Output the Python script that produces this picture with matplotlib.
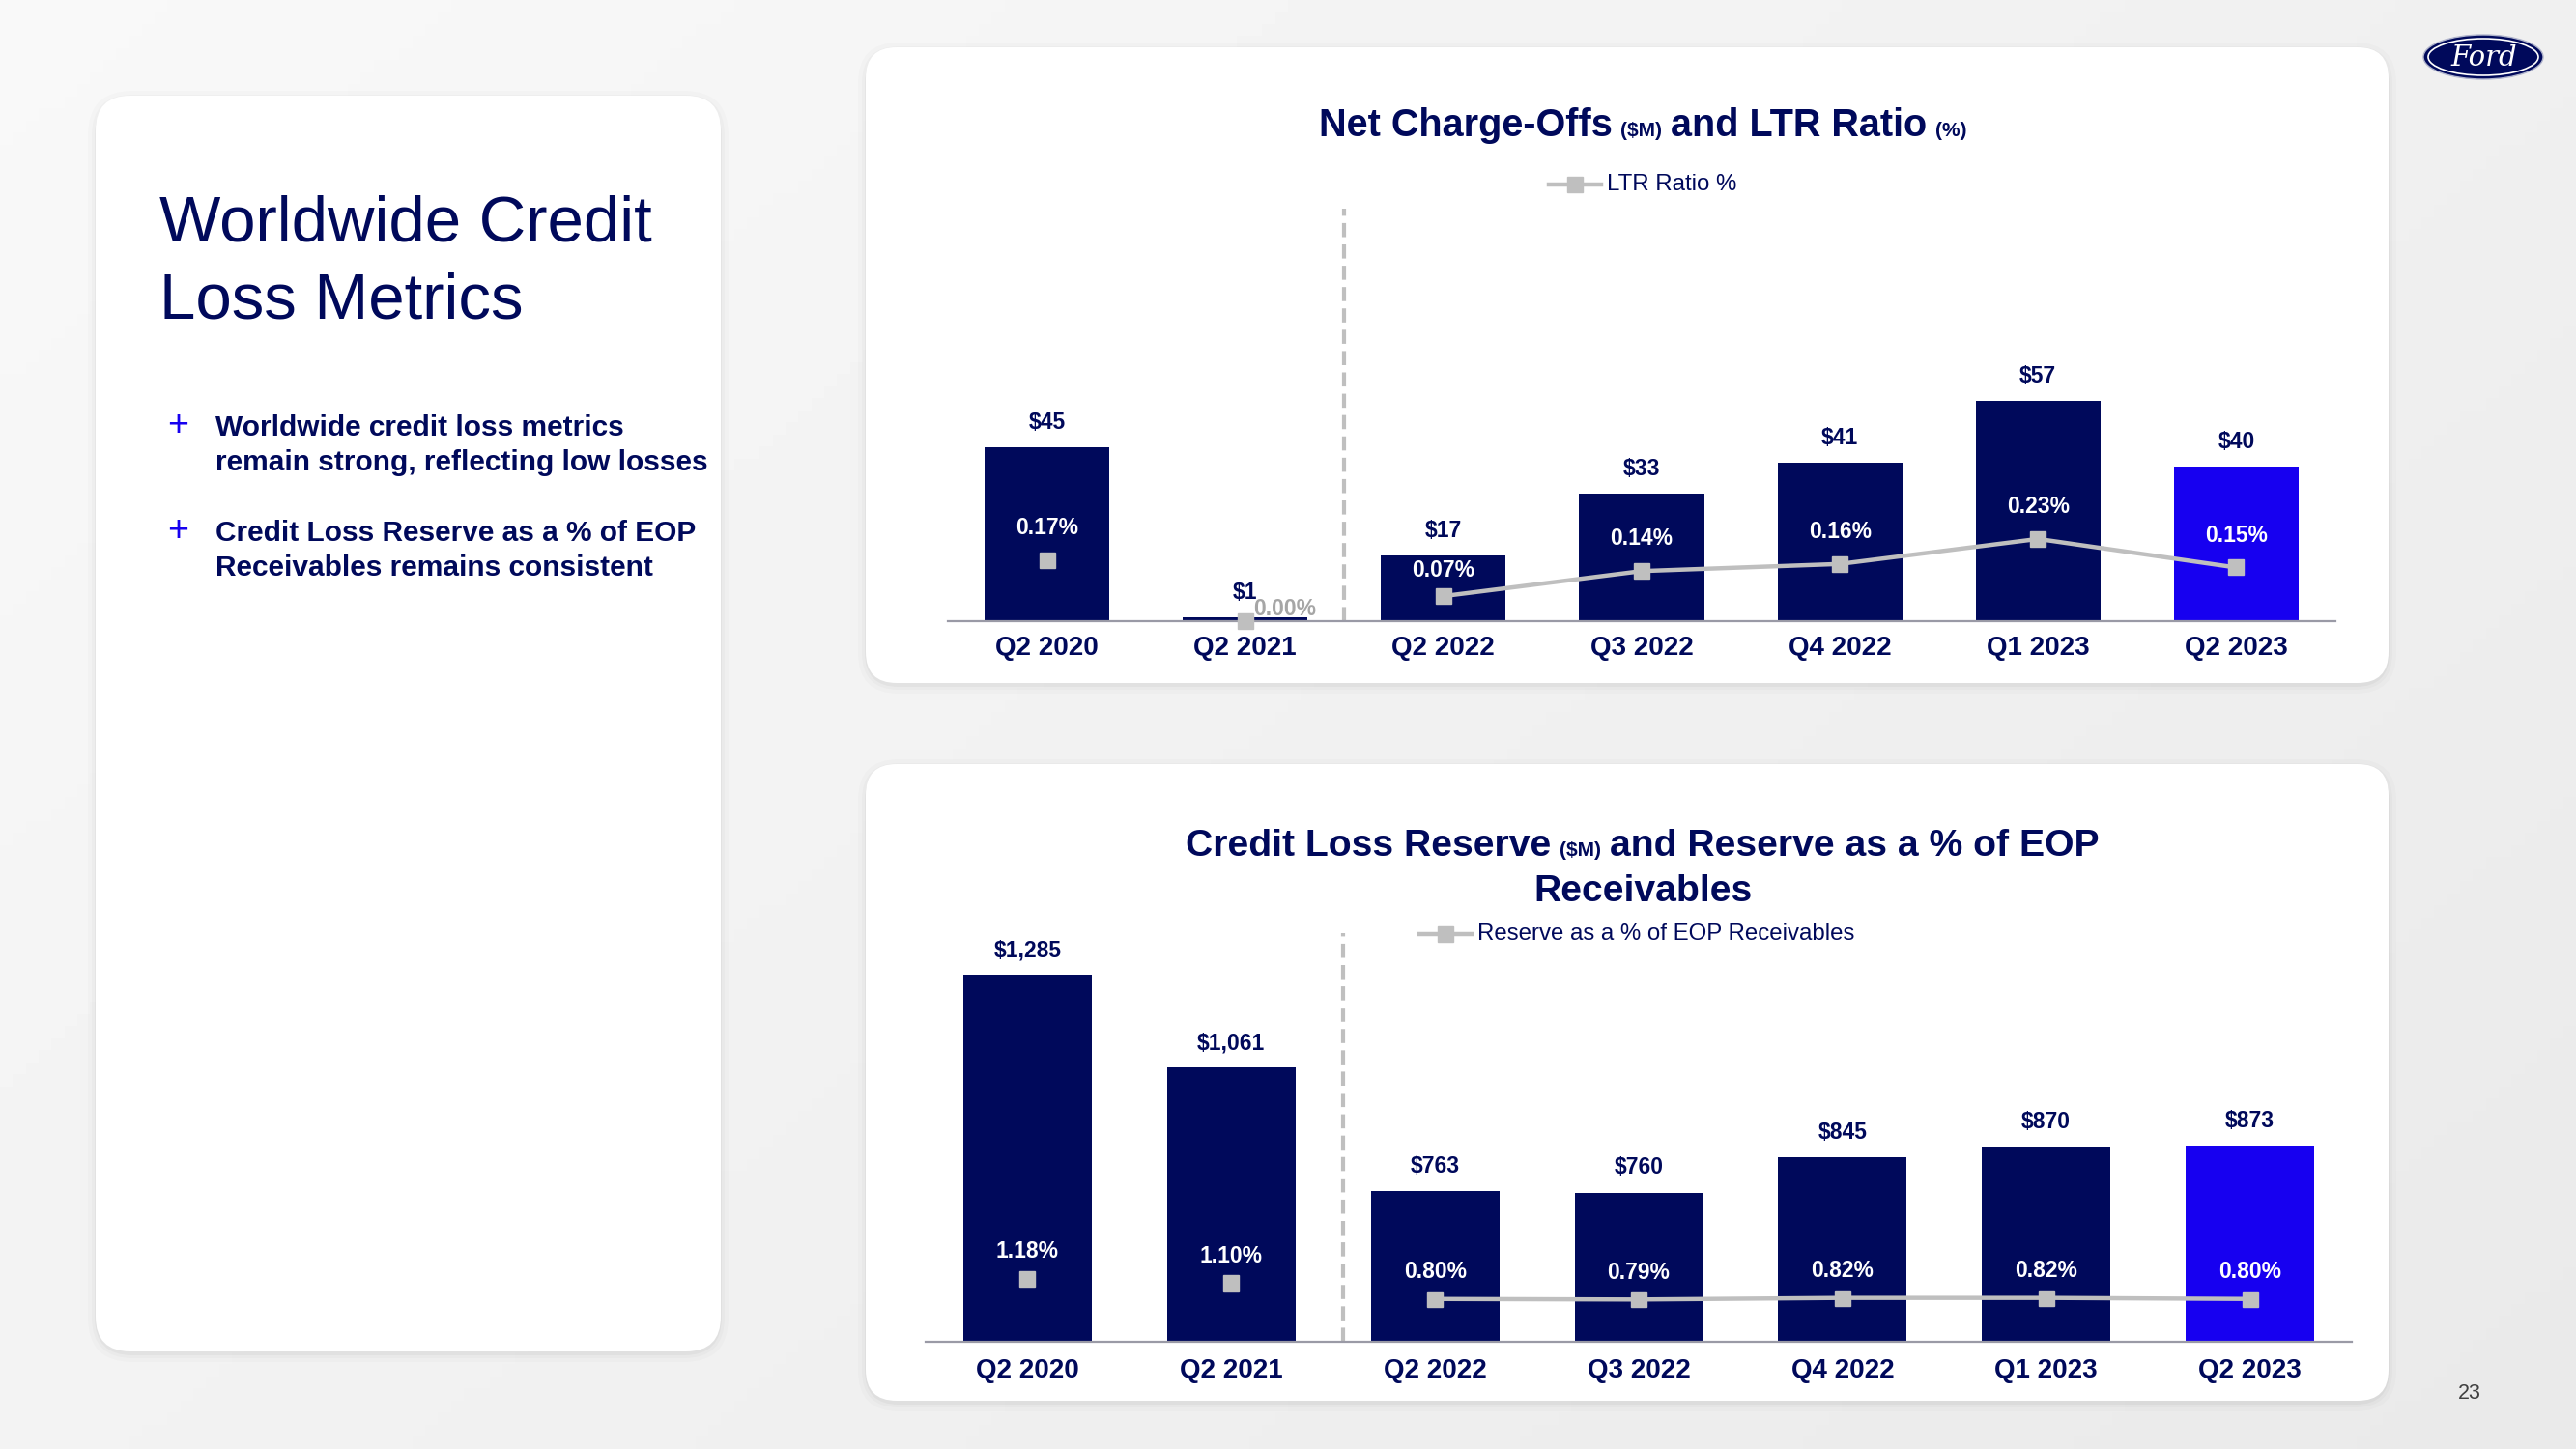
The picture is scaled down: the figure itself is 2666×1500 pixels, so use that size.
import numpy as np
import matplotlib
matplotlib.use('Agg')
import matplotlib.pyplot as plt
from matplotlib.patches import FancyBboxPatch, Ellipse

plt.rcParams['font.family'] = ['Liberation Sans', 'DejaVu Sans']

# data
cats = ['Q2 2020', 'Q2 2021', 'Q2 2022', 'Q3 2022', 'Q4 2022', 'Q1 2023', 'Q2 2023']
net_charge_offs = [45, 1, 17, 33, 41, 57, 40]  # $M
ltr_ratio = [0.17, 0.00, 0.07, 0.14, 0.16, 0.23, 0.15]  # %
reserve = [1285, 1061, 763, 760, 845, 870, 873]  # $M
reserve_pct = [1.18, 1.10, 0.80, 0.79, 0.82, 0.82, 0.80]  # % of EOP receivables

W, H = 2666, 1500
NAVY = '#00095B'
BRIGHT = '#1700F0'
GREY = '#BFBFBF'
PT = 100 / 72  # px per point

fig = plt.figure(figsize=(W / 100, H / 100), dpi=100)

# background axes in pixel units (y down)
bg = fig.add_axes([0, 0, 1, 1])
bg.set_xlim(0, W)
bg.set_ylim(H, 0)
bg.axis('off')
gx, gy = np.meshgrid(np.linspace(0, 1, 200), np.linspace(0, 1, 120))
grad = 0.975 - 0.06 * (0.6 * gx + 0.4 * gy)
bg.imshow(grad, cmap='gray', vmin=0, vmax=1, extent=(0, W, H, 0), aspect='auto', zorder=0)


def px_rect(x0, y0, x1, y1):
    return [x0 / W, 1 - y1 / H, (x1 - x0) / W, (y1 - y0) / H]


def panel(x0, y0, x1, y1, r):
    # soft shadow
    for k, a in [(10, 0.015), (6, 0.02), (3, 0.03)]:
        bg.add_patch(FancyBboxPatch((x0 - k + 2, y0 - k + 5), x1 - x0 + 2 * k - 4, y1 - y0 + 2 * k - 4,
                                    boxstyle=f'round,pad=0,rounding_size={r + k}',
                                    fc='black', ec='none', alpha=a, zorder=1))
    bg.add_patch(FancyBboxPatch((x0, y0), x1 - x0, y1 - y0,
                                boxstyle=f'round,pad=0,rounding_size={r}',
                                fc='white', ec='none', zorder=2))


panel(99, 99, 746, 1399, 36)
panel(896, 49, 2472, 707, 32)
panel(896, 791, 2472, 1450, 32)

# left panel text
bg.text(165, 250, 'Worldwide Credit', fontsize=48.3, color=NAVY, va='baseline', zorder=5)
bg.text(165, 330, 'Loss Metrics', fontsize=48.3, color=NAVY, va='baseline', zorder=5)
bullets = [('Worldwide credit loss metrics', 'remain strong, reflecting low losses'),
           ('Credit Loss Reserve as a % of EOP', 'Receivables remains consistent')]
for (l1, l2), yb in zip(bullets, [451, 560]):
    bg.text(184, yb, '+', fontsize=27, color=BRIGHT, ha='center', va='baseline', zorder=5)
    bg.text(223, yb, l1, fontsize=21.5, fontweight='bold', color=NAVY, va='baseline', zorder=5)
    bg.text(223, yb + 36, l2, fontsize=21.5, fontweight='bold', color=NAVY, va='baseline', zorder=5)

renderer = fig.canvas.get_renderer()


def rich_line(parts, xc, yb):
    # parts: (text, fontsize); pieces separated by a space
    texts = [bg.text(0, yb, s, fontsize=fs, fontweight='bold', color=NAVY,
                     ha='left', va='baseline', zorder=5) for s, fs in parts]
    widths = [t.get_window_extent(renderer).width for t in texts]
    gaps = [0.278 * max(parts[i][1], parts[i + 1][1]) * PT * 0.8 for i in range(len(parts) - 1)]
    total = sum(widths) + sum(gaps)
    x = xc - total / 2
    for i, (t, w) in enumerate(zip(texts, widths)):
        t.set_x(x)
        x += w + (gaps[i] if i < len(gaps) else 0)


rich_line([('Net Charge-Offs', 28.5), ('($M)', 15), ('and LTR Ratio', 28.5), ('(%)', 15)], 1700, 141)
rich_line([('Credit Loss Reserve', 28.2), ('($M)', 15), ('and Reserve as a % of EOP', 28.2)], 1700, 886)
rich_line([('Receivables', 28.2)], 1700, 933)


def legend(x0, y, label):
    bg.plot([x0, x0 + 54], [y, y], color=GREY, lw=3.2, zorder=5)
    bg.plot([x0 + 27], [y], ls='none', marker='s', ms=11, color=GREY, zorder=6)
    bg.text(x0 + 60, y, label, fontsize=17.3, color=NAVY, va='center', zorder=5)


legend(1603, 191, 'LTR Ratio %')
legend(1469, 967, 'Reserve as a % of EOP Receivables')


def draw_chart(rect, vals, pcts, ylim, pylim, split_x, vlab_off, plab_off, tick_pad):
    ax = fig.add_axes(px_rect(*rect))
    ax.patch.set_alpha(0)
    h_px = rect[3] - rect[1]
    x = np.arange(len(cats))
    colors = [NAVY] * (len(cats) - 1) + [BRIGHT]
    ax.bar(x, vals, width=0.63, color=colors, zorder=2)
    ax.set_xlim(-0.5, len(cats) - 0.5)
    ax.set_ylim(*ylim)
    for s in ['top', 'right', 'left']:
        ax.spines[s].set_visible(False)
    ax.spines['bottom'].set_color('#9a9aa6')
    ax.spines['bottom'].set_linewidth(1.6)
    ax.spines['bottom'].set_zorder(3)
    ax.set_yticks([])
    ax.set_xticks(x, cats, fontsize=20, fontweight='bold', color=NAVY)
    ax.tick_params(axis='x', length=0, pad=tick_pad)
    ax.axvline(split_x, color=GREY, lw=3, ls=(0, (3.5, 1.8)), zorder=1)
    for xi, v in zip(x, vals):
        ax.annotate(f'${v:,}', (xi, v), xytext=(0, vlab_off), textcoords='offset points',
                    ha='center', va='center', fontsize=16.5, fontweight='bold', color=NAVY)

    ax2 = ax.twinx()
    ax2.set_ylim(*pylim)
    ax2.axis('off')
    ax2.plot(x[2:], pcts[2:], color=GREY, lw=3.2, zorder=3)
    ax2.plot(x, pcts, ls='none', marker='s', ms=12, color=GREY, zorder=4, clip_on=False)
    for xi, v, p in zip(x, vals, pcts):
        if p == 0:
            ax2.annotate(f'{p:.2f}%', (xi, p), xytext=(6, 9), textcoords='offset points',
                         ha='left', va='center', fontsize=16.5, fontweight='bold', color='#A6A6A6')
        else:
            # keep the label inside the bar
            bar_px = (v - ylim[0]) / (ylim[1] - ylim[0]) * h_px
            mk_px = p / pylim[1] * h_px
            off = min(plab_off, (bar_px - mk_px - 16) / PT)
            ax2.annotate(f'{p:.2f}%', (xi, p), xytext=(0, off), textcoords='offset points',
                         ha='center', va='center', fontsize=16.5, fontweight='bold', color='white')
    return ax


draw_chart((981, 216, 2417, 643), net_charge_offs, ltr_ratio, (0, 106.7), (0, 1.154), 1.5, 18, 24, 11)
draw_chart((958, 966, 2434, 1389), reserve, reserve_pct, (400, 1386), (0, 7.65), 1.55, 18.5, 20, 12)

# Ford logo
bg.add_patch(Ellipse((2570, 59), 124, 46, fc=NAVY, ec='#B0B4CC', lw=1, zorder=5))
bg.add_patch(Ellipse((2570, 59), 114, 38, fc='none', ec='white', lw=1.2, zorder=6))
bg.text(2571, 60, 'Ford', fontsize=21, family='DejaVu Serif', style='italic',
        color='white', ha='center', va='center', zorder=7)

# page number
bg.text(2556, 1442, '23', fontsize=15.5, color='#404040', ha='center', va='center', zorder=5)

fig.savefig('out.png', dpi=100)
